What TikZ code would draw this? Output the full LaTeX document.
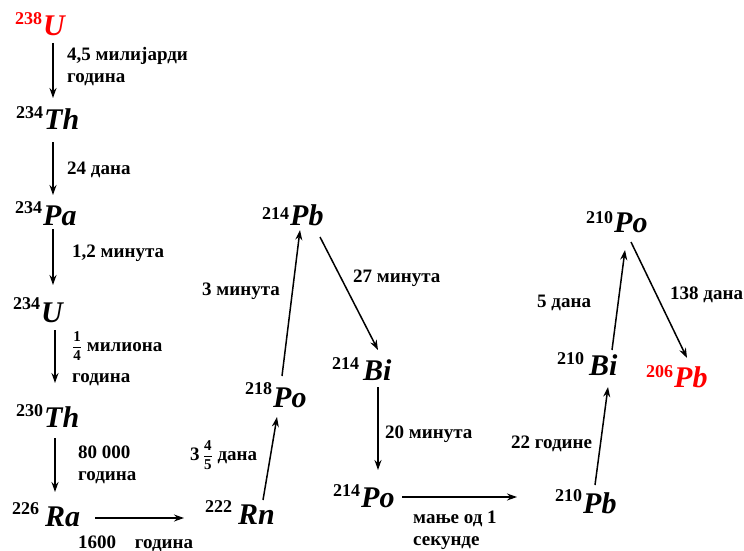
\documentclass[tikz,border=0pt]{standalone}
\usepackage{amsmath}
\usepackage{fontspec}
\setmainfont{Liberation Serif}
\usetikzlibrary{arrows.meta,calc}
\newcommand{\supf}{\fontsize{18}{18}\selectfont\bfseries\upshape}
\newcommand{\symf}{\fontsize{30}{30}\selectfont\bfseries\itshape}
\newcommand{\iso}[3][11pt]{\raisebox{#1}{\supf #2}\hspace{1pt}{\symf #3}}
\newcommand{\fr}[2]{{\fontsize{15}{15}\selectfont$\dfrac{\textbf{#1}}{\textbf{#2}}$}}
\begin{document}
\begin{tikzpicture}[x=1pt,y=-1pt,
  el/.style={anchor=base west, inner sep=0pt},
  lab/.style={anchor=base west, inner sep=0pt, font=\fontsize{19}{22}\selectfont\bfseries, align=left},
  arr/.style={line width=1.5pt, -{Stealth[length=10pt,width=7pt]}}]
\useasboundingbox (0,0) rectangle (744,551);
% isotopes
\node[el,red] (u238) at (15,36) {\iso{238}{U}};
\node[el] (th234) at (16,129) {\iso{234}{Th}};
\node[el] (pa234) at (15,225) {\iso[12pt]{234}{Pa}};
\node[el] (u234) at (13,322) {\iso[13pt]{234}{U}};
\node[el] (th230) at (16,427) {\iso{230}{Th}};
\node[el] (ra226) at (12,526) {\iso[12pt]{226}{\,Ra}};
\node[el] (rn222) at (205,524) {\iso[12pt]{222}{\hspace{5pt}Rn}};
\node[el] (po218) at (245,407) {\iso[13pt]{218}{Po}};
\node[el] (pb214) at (262,225) {\iso[6pt]{214}{Pb}};
\node[el] (bi214) at (332,380) {\iso[11pt]{214}{\hspace{3pt}Bi}};
\node[el] (po214) at (333,507) {\iso[11pt]{214}{Po}};
\node[el] (pb210) at (555,513) {\iso[12pt]{210}{Pb}};
\node[el] (bi210) at (557,375) {\iso[11pt]{210}{\hspace{4pt}Bi}};
\node[el] (po210) at (586,232) {\iso[9pt]{210}{Po}};
\node[el,red] (pb206) at (646,387) {\iso[10pt]{206}{Pb}};
% labels
\node[lab] (l1) at (67,82) {4,5 милијарди\\година};
\node[lab] (l2) at (67,174) {24 дана};
\node[lab] (l3) at (72,257) {1,2 минута};
\node[lab] (l4) at (72,351) {\fr{1}{4} милиона};
\node[lab] (l4b) at (72,382) {година};
\node[lab] (l5) at (78,480) {80 000\\година};
\node[lab] (l6) at (78,548) {1600\hspace{14pt} година};
\node[lab] (l7) at (190,460) {3\,\fr{4}{5} дана};
\node[lab] (l8) at (202,295) {3 минута};
\node[lab] (l9) at (353,282) {27 минута};
\node[lab] (l10) at (385,438) {20 минута};
\node[lab] (l11) at (413,545) {мање од 1\\секунде};
\node[lab] (l12) at (511,448) {22 године};
\node[lab] (l13) at (537,307) {5 дана};
\node[lab] (l14) at (670,299) {138 дана};
% arrows
\draw[arr] ($(u238.base west)+(38,7)$) -- ($(th234.base west)+(37,-31)$);
\draw[arr] ($(th234.base west)+(37,13)$) -- ($(pa234.base west)+(38,-30)$);
\draw[arr] ($(pa234.base west)+(38,4)$) -- ($(u234.base west)+(40,-37)$);
\draw[arr] ($(u234.base west)+(42,8)$) -- ($(th230.base west)+(39,-44)$);
\draw[arr] ($(th230.base west)+(39,11)$) -- ($(ra226.base west)+(43,-34)$);
\draw[arr] ($(ra226.base west)+(83,-8)$) -- ($(rn222.base west)+(-21,-6)$);
\draw[arr] ($(rn222.base west)+(58,-24)$) -- ($(po218.base west)+(32,10)$);
\draw[arr] ($(po218.base west)+(37,-31)$) -- ($(pb214.base west)+(38,5)$);
\draw[arr] ($(pb214.base west)+(58,12)$) -- ($(bi214.base west)+(46,-30)$);
\draw[arr] ($(bi214.base west)+(46,7)$) -- ($(po214.base west)+(45,-37)$);
\draw[arr] ($(po214.base west)+(69,-10)$) -- ($(pb210.base west)+(-38,-16)$);
\draw[arr] ($(pb210.base west)+(40,-28)$) -- ($(bi210.base west)+(51,12)$);
\draw[arr] ($(bi210.base west)+(55,-25)$) -- ($(po210.base west)+(39,18)$);
\draw[arr] ($(po210.base west)+(45,10)$) -- ($(pb206.base west)+(41,-29)$);
\end{tikzpicture}
\end{document}
